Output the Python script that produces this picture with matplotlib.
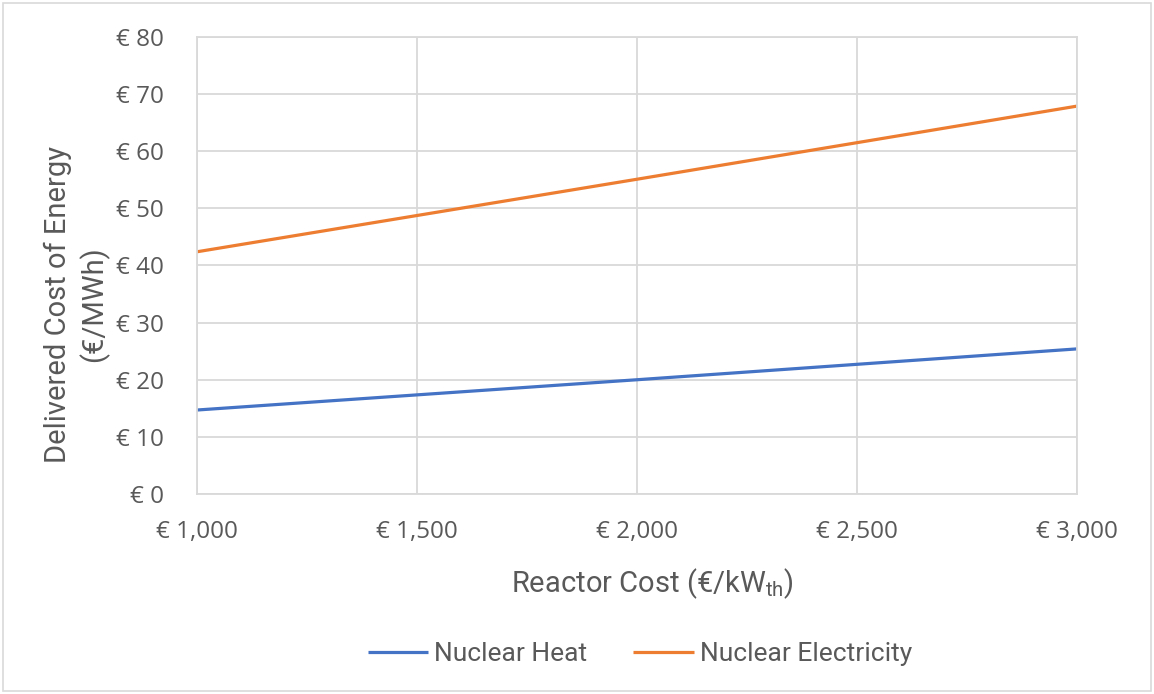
import numpy as np
import matplotlib
matplotlib.use("Agg")
import matplotlib.pyplot as plt
from matplotlib.ticker import FuncFormatter

# delivered cost of energy vs reactor capital cost
reactor_cost = [1000, 2000, 3000]
nuclear_heat = [14.7, 20.0, 25.4]
nuclear_elec = [42.4, 55.1, 67.9]

x_ticks = [1000, 1500, 2000, 2500, 3000]
y_ticks = [0, 10, 20, 30, 40, 50, 60, 70, 80]

plt.rcParams['font.family'] = ['Open Sans', 'DejaVu Sans']
grey = '#595959'
gridc = '#d9d9d9'
label_font = ['Roboto', 'DejaVu Sans']

fig = plt.figure(figsize=(11.54, 6.94), dpi=100)
ax = fig.add_axes([0.1707, 0.2882, 0.7626, 0.6585])

ax.plot(reactor_cost, nuclear_heat, color='#4472C4', lw=2.3, label='Nuclear Heat',
        solid_capstyle='butt')
ax.plot(reactor_cost, nuclear_elec, color='#ED7D31', lw=2.3, label='Nuclear Electricity',
        solid_capstyle='butt')

ax.set_xlim(1000, 3000)
ax.set_ylim(0, 80)
ax.set_xticks(x_ticks)
ax.set_yticks(y_ticks)
ax.xaxis.set_major_formatter(FuncFormatter(lambda v, p: '€ {:,.0f}'.format(v)))
ax.yaxis.set_major_formatter(FuncFormatter(lambda v, p: '€ {:.0f}'.format(v)))
ax.grid(True, color=gridc, lw=1.3)
ax.set_axisbelow(True)
for s in ax.spines.values():
    s.set_color(gridc)
    s.set_linewidth(1.3)
ax.tick_params(length=0, labelsize=17.5, labelcolor=grey)
ax.tick_params(axis='x', pad=19)
ax.tick_params(axis='y', pad=24)

ax.set_ylabel('Delivered Cost of Energy\n(€/MWh)', fontsize=21, color=grey,
              family=label_font, linespacing=1.25)
ax.yaxis.set_label_coords(-0.1, 0.415)
ax.set_xlabel('Reactor Cost (€/kW$_{\\mathregular{th}}$)', fontsize=21, color=grey,
              family=label_font)
ax.xaxis.set_label_coords(0.518, -0.158)

leg = fig.legend(loc='center', bbox_to_anchor=(0.5546, 0.057), ncol=2, frameon=False,
                 handlelength=2.3, handletextpad=0.23, columnspacing=1.74,
                 prop={'family': label_font, 'size': 19})
for t in leg.get_texts():
    t.set_color(grey)

# thin outer frame
fig.patches.append(plt.Rectangle((0.003, 0.005), 0.994, 0.99, transform=fig.transFigure,
                                 fill=False, edgecolor='#d9d9d9', lw=1.2))

fig.savefig('out.png', dpi=100)
